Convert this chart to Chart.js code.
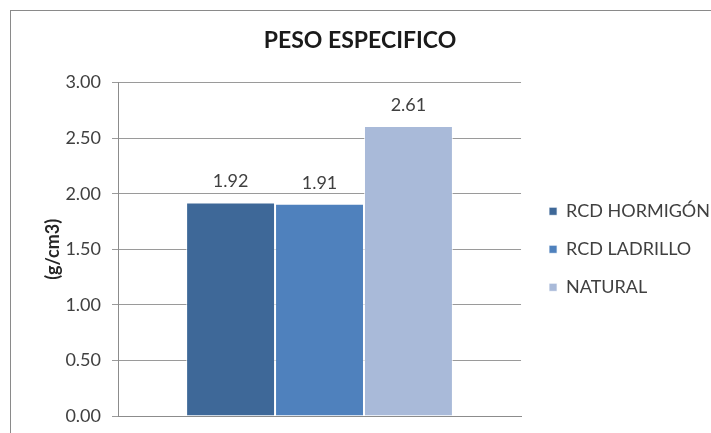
<!DOCTYPE html>
<html>
<head>
<meta charset="utf-8">
<script src="https://cdn.jsdelivr.net/npm/chart.js@4"></script>
<style>
  html, body { margin: 0; padding: 0; background: #fff; }
  #wrap { position: relative; width: 711px; height: 433px; overflow: hidden; }
  #frame { position: absolute; left: 10px; top: 10px; width: 720px; height: 450px;
           border: 1px solid #8a8a8a; box-sizing: border-box; }
  #chart { position: absolute; left: 0; top: 0; }
</style>
</head>
<body>
<div id="wrap">
  <div id="frame"></div>
  <canvas id="chart" width="711" height="433"></canvas>
</div>
<script>
// ─── Datos ───────────────────────────────────────────────
const categorias = [''];
const series = ['RCD HORMIGÓN', 'RCD LADRILLO', 'NATURAL'];
const valores = [1.92, 1.91, 2.61];
const colores = ['#3e6898', '#4f81bd', '#a9bad9'];
const yTicks = [0, 0.5, 1, 1.5, 2, 2.5, 3];

const FONT = 'Lato, "Open Sans", sans-serif';

// etiquetas de valor encima de cada barra
const etiquetas = {
    id: 'etiquetas',
    afterDatasetsDraw(chart) {
        const ctx = chart.ctx;
        ctx.save();
        ctx.font = '18px ' + FONT;
        ctx.fillStyle = '#404040';
        ctx.textAlign = 'center';
        ctx.textBaseline = 'middle';
        chart.data.datasets.forEach((ds, i) => {
            chart.getDatasetMeta(i).data.forEach((bar, j) => {
                ctx.fillText(ds.data[j].toFixed(2), bar.x, bar.y - 21);
            });
        });
        ctx.restore();
    }
};

new Chart(document.getElementById('chart'), {
    type: 'bar',
    data: {
        labels: categorias,
        datasets: series.map((s, i) => ({
            label: s,
            data: [valores[i]],
            backgroundColor: colores[i],
            borderColor: 'rgba(255,255,255,0.7)',
            borderWidth: 1,
            categoryPercentage: 0.662,
            barPercentage: 1.0
        }))
    },
    options: {
        responsive: false,
        animation: false,
        layout: { padding: { top: 10, left: 0, right: -9, bottom: 9 } },
        plugins: {
            title: {
                display: true,
                text: 'PESO ESPECIFICO',
                color: '#1a1a1a',
                font: { family: FONT, size: 23, weight: 'bold' },
                padding: { top: 17, bottom: 28 }
            },
            legend: {
                position: 'right',
                fullSize: false,
                maxWidth: 220,
                labels: {
                    color: '#404040',
                    font: { family: FONT, size: 18 },
                    boxWidth: 8,
                    boxHeight: 8,
                    padding: 20
                }
            },
            tooltip: { enabled: false }
        },
        scales: {
            x: {
                ticks: { display: false },
                grid: { display: false },
                border: { display: true, color: '#8c8c8c', width: 1 }
            },
            y: {
                min: 0,
                max: 3,
                afterFit(scale) {
                    scale.width = 118;
                    scale.paddingBottom = 0;
                },
                afterBuildTicks(scale) { scale.ticks = yTicks.map(v => ({ value: v })); },
                ticks: {
                    color: '#404040',
                    font: { family: FONT, size: 18 },
                    padding: 11,
                    callback: v => v.toFixed(2)
                },
                grid: { color: '#9a9a9a', tickLength: 6 },
                border: { display: true, color: '#8c8c8c' },
                title: {
                    display: true,
                    text: '(g/cm3)',
                    color: '#262626',
                    font: { family: FONT, size: 18, weight: 'bold' },
                    padding: { top: 42, bottom: 0 }
                }
            },
            espacio: {
                type: 'linear',
                position: 'right',
                min: 0,
                max: 1,
                afterFit(scale) { scale.width = 8; },
                ticks: { display: false },
                grid: { display: false },
                border: { display: false }
            }
        }
    },
    plugins: [etiquetas]
});
</script>
</body>
</html>
